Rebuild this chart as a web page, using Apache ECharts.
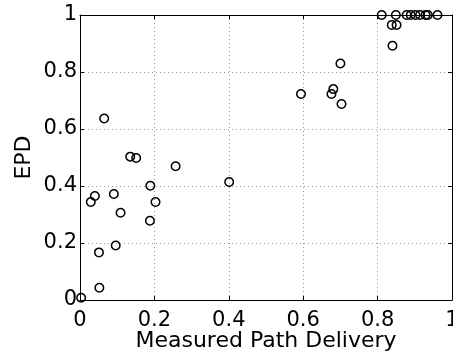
<!DOCTYPE html>
<html>
<head>
<meta charset="utf-8">
<script src="https://cdn.jsdelivr.net/npm/echarts@6/dist/echarts.min.js"></script>
<style>
  html, body { margin: 0; padding: 0; background: #fff; }
  #chart { width: 453px; height: 351px; }
</style>
</head>
<body>
<div id="chart"></div>
<script>
// measured path delivery vs EPD
const delivery = [0.003, 0.052, 0.051, 0.096, 0.109, 0.029, 0.040, 0.091, 0.188, 0.189, 0.203,
  0.401, 0.135, 0.151, 0.257, 0.065, 0.594, 0.676, 0.681, 0.703, 0.700, 0.840, 0.838, 0.851,
  0.811, 0.849, 0.878, 0.889, 0.902, 0.914, 0.929, 0.935, 0.961];
const epd = [0.008, 0.043, 0.167, 0.191, 0.306, 0.344, 0.365, 0.372, 0.278, 0.401, 0.344,
  0.414, 0.503, 0.498, 0.469, 0.637, 0.723, 0.723, 0.740, 0.688, 0.830, 0.892, 0.965, 0.965,
  1, 1, 1, 1, 1, 1, 1, 1, 1];
const xTitle = "Measured Path Delivery";
const yTitle = "EPD";

const font = "DejaVu Sans";
const chart = echarts.init(document.getElementById("chart"));

const baseAxis = {
  type: "value",
  min: 0,
  max: 1,
  interval: 0.2,
  axisLine: { show: true, onZero: false, lineStyle: { color: "#000", width: 1 } },
  axisTick: { show: true, inside: true, length: 4, lineStyle: { color: "#000" } },
};

chart.setOption({
  animation: false,
  backgroundColor: "#fff",
  grid: { left: 80, right: 1, top: 15, bottom: 51, containLabel: false, outerBoundsMode: "none" },
  xAxis: [
    {
      ...baseAxis,
      position: "bottom",
      name: xTitle,
      nameLocation: "middle",
      nameGap: 30,
      nameMoveOverlap: false,
      nameTextStyle: { fontFamily: font, fontSize: 22, color: "#000" },
      axisLabel: { fontFamily: font, fontSize: 21, color: "#000", margin: 10 },
      splitLine: { show: true, lineStyle: { type: [1, 3], color: "#999", width: 1 } },
    },
    {
      ...baseAxis,
      position: "top",
      axisLabel: { show: false },
      splitLine: { show: false },
    },
  ],
  yAxis: [
    {
      ...baseAxis,
      position: "left",
      name: yTitle,
      nameLocation: "middle",
      nameGap: 45,
      nameMoveOverlap: false,
      nameTextStyle: { fontFamily: font, fontSize: 22, color: "#000" },
      axisLabel: { fontFamily: font, fontSize: 21, color: "#000", margin: 3 },
      splitLine: { show: true, lineStyle: { type: [1, 3], color: "#999", width: 1 } },
    },
    {
      ...baseAxis,
      position: "right",
      axisLabel: { show: false },
      splitLine: { show: false },
    },
  ],
  series: [
    {
      type: "scatter",
      clip: false,
      symbol: "circle",
      symbolSize: 8.5,
      data: delivery.map((x, i) => [x, epd[i]]),
      itemStyle: { color: "rgba(0,0,0,0)", borderColor: "#000", borderWidth: 1.5, opacity: 1 },
    },
  ],
});
</script>
</body>
</html>
